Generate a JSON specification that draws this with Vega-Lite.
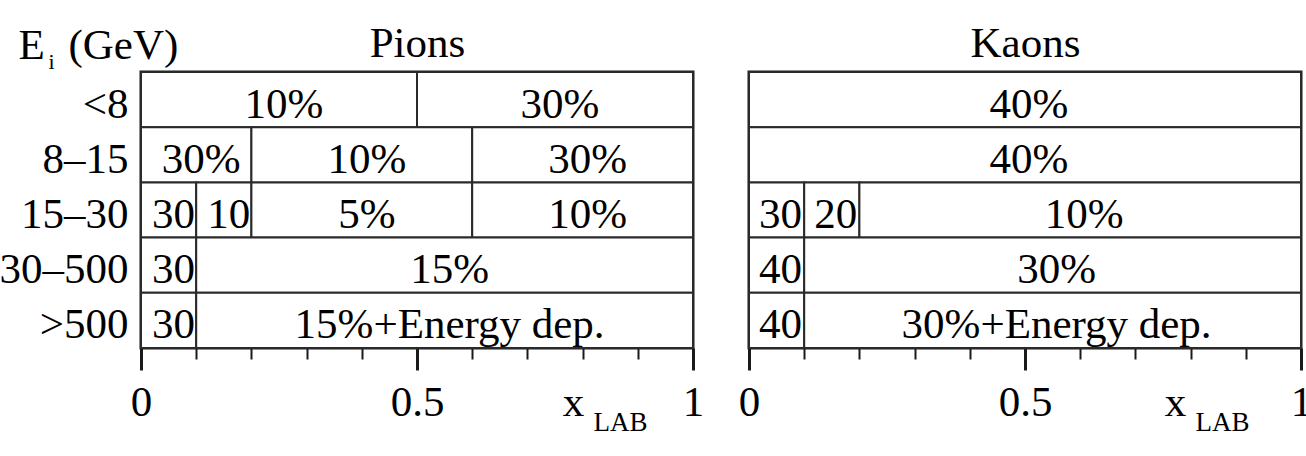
{
  "$schema": "https://vega.github.io/schema/vega-lite/v6.json",
  "autosize": {"type": "none"},
  "padding": {"left": 141, "top": 72, "right": 1165, "bottom": 384},
  "background": "white",
  "bounds": "flush",
  "spacing": 56,
  "config": {
    "font": "Liberation Serif",
    "text": {"font": "Liberation Serif"},
    "view": {"stroke": "#1a1a1a", "strokeWidth": 3},
    "axis": {"labelColor": "black", "titleColor": "black", "tickColor": "#1a1a1a", "grid": false, "domain": false, "labelFont": "Liberation Serif", "titleFont": "Liberation Serif", "titleFontWeight": "normal"}
  },
  "hconcat": [
    {
      "width": 552,
      "height": 276,
      "data": {"values": [
        {"E": "<8", "x0": 0, "x1": 0.5, "label": "10%"},
        {"E": "<8", "x0": 0.5, "x1": 1, "label": "30%"},
        {"E": "8–15", "x0": 0, "x1": 0.2, "label": "30%"},
        {"E": "8–15", "x0": 0.2, "x1": 0.6, "label": "10%"},
        {"E": "8–15", "x0": 0.6, "x1": 1, "label": "30%"},
        {"E": "15–30", "x0": 0, "x1": 0.1, "label": "30"},
        {"E": "15–30", "x0": 0.1, "x1": 0.2, "label": "10"},
        {"E": "15–30", "x0": 0.2, "x1": 0.6, "label": "5%"},
        {"E": "15–30", "x0": 0.6, "x1": 1, "label": "10%"},
        {"E": "30–500", "x0": 0, "x1": 0.1, "label": "30"},
        {"E": "30–500", "x0": 0.1, "x1": 1, "label": "15%"},
        {"E": ">500", "x0": 0, "x1": 0.1, "label": "30"},
        {"E": ">500", "x0": 0.1, "x1": 1, "label": "15%+Energy dep."}
      ]},
      "transform": [{"calculate": "(datum.x0 + datum.x1) / 2", "as": "xm"}],
      "resolve": {"axis": {"x": "independent", "y": "independent"}},
      "layer": [
        {
          "mark": {"type": "rect", "fill": "white", "stroke": "#2a2a2a", "strokeWidth": 2},
          "encoding": {
            "x": {"field": "x0", "type": "quantitative", "scale": {"domain": [0, 1], "nice": false, "zero": false},
                  "axis": {"orient": "bottom", "values": [0.1, 0.2, 0.3, 0.4, 0.6, 0.7, 0.8, 0.9], "labels": false, "tickSize": 11, "tickWidth": 2,
                           "title": "LAB", "titleFontSize": 27, "titleAlign": "center", "titleBaseline": "alphabetic", "titleX": 479, "titleY": 82}},
            "x2": {"field": "x1"},
            "y": {"field": "E", "type": "nominal", "scale": {"domain": ["<8", "8–15", "15–30", "30–500", ">500"], "paddingInner": 0, "paddingOuter": 0},
                  "axis": {"orient": "left", "ticks": false, "labelFontSize": 43, "labelPadding": 13, "labelBaseline": "alphabetic", "labelOffset": 18, "labelLimit": 300,
                           "title": "E", "titleFontSize": 43, "titleAngle": 0, "titleAlign": "left", "titleBaseline": "alphabetic", "titleX": -123, "titleY": -14}}
          }
        },
        {
          "transform": [{"filter": "indexof(datum.label, '%') >= 0"}],
          "mark": {"type": "text", "font": "Liberation Serif", "fontSize": 43, "baseline": "alphabetic", "dy": 18, "dx": 5, "color": "black"},
          "encoding": {
            "x": {"field": "xm", "type": "quantitative", "scale": {"domain": [0, 1], "nice": false, "zero": false},
                  "axis": {"orient": "bottom", "values": [0, 0.5, 1], "format": "~g", "tickSize": 22, "tickWidth": 3, "labelFontSize": 43, "labelPadding": 45, "labelBaseline": "alphabetic", "labelFlush": false,
                           "title": "x", "titleFontSize": 43, "titleAlign": "center", "titleBaseline": "alphabetic", "titleX": 432, "titleY": 67}},
            "y": {"field": "E", "type": "nominal",
                  "axis": {"orient": "left", "ticks": false, "labels": false, "title": "(GeV)", "titleFontSize": 43, "titleAngle": 0, "titleAlign": "left", "titleBaseline": "alphabetic", "titleX": -73, "titleY": -14}},
            "text": {"field": "label"}
          }
        },
        {
          "transform": [{"filter": "indexof(datum.label, '%') < 0"}],
          "mark": {"type": "text", "font": "Liberation Serif", "fontSize": 43, "baseline": "alphabetic", "dy": 18, "dx": 5, "color": "black"},
          "encoding": {
            "x": {"field": "xm", "type": "quantitative",
                  "axis": {"orient": "top", "ticks": false, "labels": false, "title": "Pions", "titleFontSize": 43, "titleAlign": "center", "titleBaseline": "alphabetic", "titleX": 276, "titleY": -16}},
            "y": {"field": "E", "type": "nominal",
                  "axis": {"orient": "left", "ticks": false, "labels": false, "title": "i", "titleFontSize": 22, "titleAngle": 0, "titleAlign": "left", "titleBaseline": "alphabetic", "titleX": -93, "titleY": -4}},
            "text": {"field": "label"}
          }
        }
      ]
    },
    {
      "width": 552,
      "height": 276,
      "data": {"values": [
        {"E": "<8", "x0": 0, "x1": 1, "label": "40%"},
        {"E": "8–15", "x0": 0, "x1": 1, "label": "40%"},
        {"E": "15–30", "x0": 0, "x1": 0.1, "label": "30"},
        {"E": "15–30", "x0": 0.1, "x1": 0.2, "label": "20"},
        {"E": "15–30", "x0": 0.2, "x1": 1, "label": "10%"},
        {"E": "30–500", "x0": 0, "x1": 0.1, "label": "40"},
        {"E": "30–500", "x0": 0.1, "x1": 1, "label": "30%"},
        {"E": ">500", "x0": 0, "x1": 0.1, "label": "40"},
        {"E": ">500", "x0": 0.1, "x1": 1, "label": "30%+Energy dep."}
      ]},
      "transform": [{"calculate": "(datum.x0 + datum.x1) / 2", "as": "xm"}],
      "resolve": {"axis": {"x": "independent", "y": "independent"}},
      "layer": [
        {
          "mark": {"type": "rect", "fill": "white", "stroke": "#2a2a2a", "strokeWidth": 2},
          "encoding": {
            "x": {"field": "x0", "type": "quantitative", "scale": {"domain": [0, 1], "nice": false, "zero": false},
                  "axis": {"orient": "bottom", "values": [0.1, 0.2, 0.3, 0.4, 0.6, 0.7, 0.8, 0.9], "labels": false, "tickSize": 11, "tickWidth": 2,
                           "title": "LAB", "titleFontSize": 27, "titleAlign": "center", "titleBaseline": "alphabetic", "titleX": 473, "titleY": 82}},
            "x2": {"field": "x1"},
            "y": {"field": "E", "type": "nominal", "scale": {"domain": ["<8", "8–15", "15–30", "30–500", ">500"], "paddingInner": 0, "paddingOuter": 0}, "axis": null}
          }
        },
        {
          "transform": [{"filter": "indexof(datum.label, '%') >= 0"}],
          "mark": {"type": "text", "font": "Liberation Serif", "fontSize": 43, "baseline": "alphabetic", "dy": 18, "dx": 4, "color": "black"},
          "encoding": {
            "x": {"field": "xm", "type": "quantitative", "scale": {"domain": [0, 1], "nice": false, "zero": false},
                  "axis": {"orient": "bottom", "values": [0, 0.5, 1], "format": "~g", "tickSize": 22, "tickWidth": 3, "labelFontSize": 43, "labelPadding": 45, "labelBaseline": "alphabetic", "labelFlush": false,
                           "title": "x", "titleFontSize": 43, "titleAlign": "center", "titleBaseline": "alphabetic", "titleX": 426, "titleY": 67}},
            "y": {"field": "E", "type": "nominal", "axis": null},
            "text": {"field": "label"}
          }
        },
        {
          "transform": [{"filter": "indexof(datum.label, '%') < 0"}],
          "mark": {"type": "text", "font": "Liberation Serif", "fontSize": 43, "baseline": "alphabetic", "dy": 18, "dx": 4, "color": "black"},
          "encoding": {
            "x": {"field": "xm", "type": "quantitative",
                  "axis": {"orient": "top", "ticks": false, "labels": false, "title": "Kaons", "titleFontSize": 43, "titleAlign": "center", "titleBaseline": "alphabetic", "titleX": 276, "titleY": -16}},
            "y": {"field": "E", "type": "nominal", "axis": null},
            "text": {"field": "label"}
          }
        }
      ]
    }
  ]
}
